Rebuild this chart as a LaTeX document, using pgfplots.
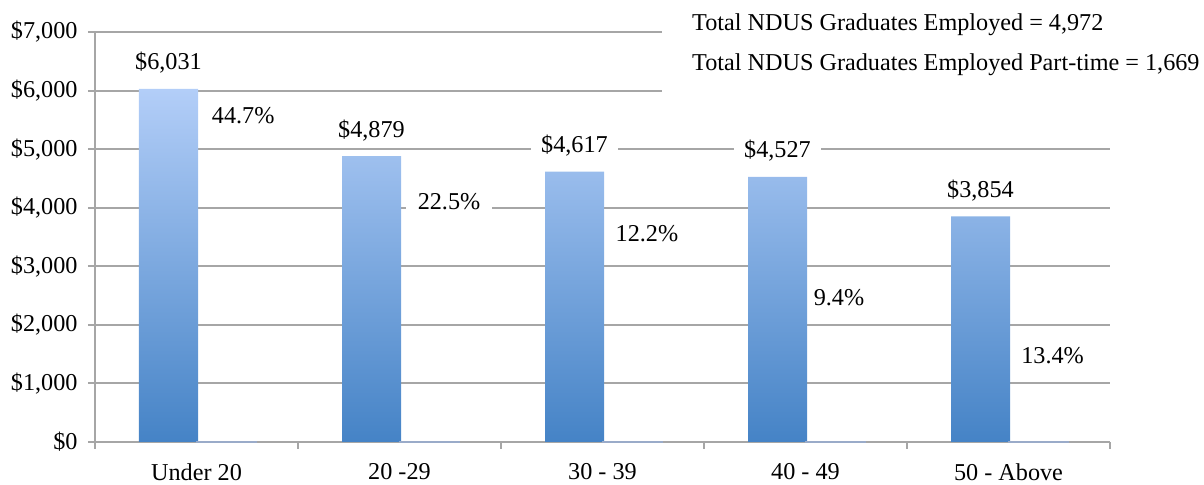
\documentclass[border=0pt]{standalone}
\usepackage{pgfplots}
\pgfplotsset{compat=1.18}
\usepackage{fontspec}
\setmainfont{Liberation Serif}
\definecolor{bartop}{HTML}{B3CEF8}
\definecolor{barbot}{HTML}{4583C6}
\definecolor{gridc}{HTML}{A6A6A6}
\definecolor{thinbar}{HTML}{9AABC9}
\newcommand{\chartfont}{\fontsize{12.1}{14.5}\selectfont}
\begin{document}
\chartfont
\begin{tikzpicture}
\useasboundingbox (-47.5pt,-21.5pt) rectangle (554.5pt,221pt);
\begin{axis}[
  at={(0,0)}, anchor=south west,
  width=507.5pt, height=205pt, scale only axis,
  clip=false,
  xmin=-0.5, xmax=4.5, ymin=0, ymax=7000,
  axis lines*=left,
  axis line style={gridc, line width=1pt},
  xtick={-0.5,0.5,1.5,2.5,3.5,4.5},
  x tick label as interval,
  xticklabels={Under 20,20 -29,30 - 39,40 - 49,50 - Above},
  ytick={0,1000,...,7000},
  yticklabel={\$\pgfmathprintnumber{\tick}},
  ymajorgrids,
  grid style={gridc, line width=1pt},
  tick align=outside,
  major tick length=3.5pt,
  tick style={gridc, line width=1pt},
  every tick label/.append style={font=\chartfont, text=black},
  x tick label style={inner ysep=0.5pt, yshift=-6.5pt},
  y tick label style={xshift=-1pt},
  /pgf/number format/assume math mode=true,
  /pgf/number format/1000 sep={,},
]
% average monthly salary
\addplot[ybar, bar width=29.5pt, bar shift=-14pt, draw=none,
  top color=bartop, bottom color=barbot,
  nodes near coords={\$\pgfmathprintnumber{\pgfplotspointmeta}},
  nodes near coords style={anchor=south, xshift=-14pt, yshift=5.5pt, fill=white, inner xsep=5pt, inner ysep=2pt, text=black, font=\chartfont},
] coordinates {(0,6031) (1,4879) (2,4617) (3,4527) (4,3854)};
% part-time share (near zero on this axis)
\addplot[ybar, bar width=29.5pt, bar shift=15pt, draw=thinbar, fill=thinbar, line width=0.6pt]
  coordinates {(0,0.447) (1,0.225) (2,0.122) (3,0.094) (4,0.134)};
% percentage labels
\addplot[draw=none, mark=none, point meta=explicit,
  nodes near coords={\pgfmathprintnumber[fixed, fixed zerofill, precision=1]{\pgfplotspointmeta}\%},
  nodes near coords style={anchor=center, fill=white, inner xsep=6pt, inner ysep=2pt, text=black, font=\chartfont},
] table[meta=pct] {
x y pct
1.244 4098 22.5
};
\addplot[draw=none, mark=none, point meta=explicit,
  nodes near coords={\pgfmathprintnumber[fixed, fixed zerofill, precision=1]{\pgfplotspointmeta}\%},
  nodes near coords style={anchor=center, fill=white, inner xsep=1.5pt, inner ysep=2pt, text=black, font=\chartfont},
] table[meta=pct] {
x y pct
0.23 5566 44.7
2.219 3551 12.2
3.165 2459 9.4
4.217 1468 13.4
};
\fill[white] (rel axis cs:0.5586,1.2) rectangle (rel axis cs:1.2,0.851);
\node[anchor=west, inner sep=0, font=\chartfont] at (rel axis cs:0.588,1.017) {Total NDUS Graduates Employed = 4,972};
\node[anchor=west, inner sep=0, font=\chartfont] at (rel axis cs:0.588,0.9196) {Total NDUS Graduates Employed Part-time = 1,669};
\end{axis}
\end{tikzpicture}
\end{document}
